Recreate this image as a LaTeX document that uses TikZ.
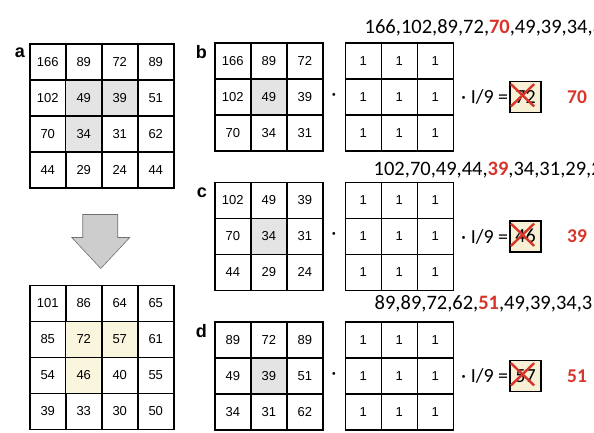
\documentclass[tikz,border=0pt]{standalone}
\usepackage{fontspec}
\setmainfont{Liberation Sans}
\newfontfamily\calib{Carlito}
\usetikzlibrary{matrix,positioning,calc,shapes.misc}
\definecolor{shdgrey}{HTML}{E4E4E4}
\definecolor{shdyel}{HTML}{FAF5DD}
\definecolor{boxfill}{HTML}{F7F0D4}
\definecolor{mred}{HTML}{D8352A}
\definecolor{arrfill}{HTML}{CDCDCD}
\definecolor{arrline}{HTML}{707070}
\tikzset{
  numgrid/.style={matrix of nodes,inner sep=0pt,outer sep=0pt,column sep=-1.5pt,row sep=-1.5pt,
                nodes={draw,line width=1.5pt,minimum size=36pt,inner sep=0pt,outer sep=0pt,
                       anchor=center,font=\fontsize{13}{15}\selectfont}},
  shd/.style={fill=shdgrey},
  ylw/.style={fill=shdyel},
  lbl/.style={inner sep=0pt,anchor=base east,font=\fontsize{18}{20}\selectfont\bfseries},
  seq/.style={inner sep=0pt,anchor=base west,font=\calib\fontsize{20.5}{24}\selectfont},
  op/.style={inner sep=0pt,font=\calib\fontsize{20}{24}\selectfont},
  resbox/.style={draw,line width=1.5pt,fill=boxfill,minimum size=31pt,inner sep=0pt,outer sep=0pt,
                 font=\calib\fontsize{20}{24}\selectfont},
  xmark/.style={cross out,draw=mred,line width=2.4pt,minimum width=21pt,minimum height=20pt,inner sep=0pt},
  res/.style={inner sep=0pt,text=mred,font=\calib\bfseries\fontsize{19.5}{22}\selectfont},
  bigarrow/.style={fill=arrfill,draw=arrline,line width=0.6pt,line join=miter},
}
\begin{document}
\begin{tikzpicture}[x=1pt,y=-1pt]
  \clip (0,0) rectangle (594,432);
  \matrix (ga) [numgrid,anchor=north west] at (29,43) {
    166 & 89 & 72 & 89\\
    102 & |[shd]| 49 & |[shd]| 39 & 51\\
    70 & |[shd]| 34 & 31 & 62\\
    44 & 29 & 24 & 44\\};
  \node[lbl] (la) at ([xshift=-4pt,yshift=-14pt]ga.north west) {a};
  \matrix (ge) [numgrid,below=96pt of ga] {
    101 & 86 & 64 & 65\\
    85 & |[ylw]| 72 & |[ylw]| 57 & 61\\
    54 & |[ylw]| 46 & 40 & 55\\
    39 & 33 & 30 & 50\\};
  \coordinate (tip) at ($(ga.south)+(-1,80)$);
  \draw[bigarrow] (tip) -- ++(-29,-31) -- ++(11,0) -- ++(0,-23) -- ++(35,0) -- ++(0,23) -- ++(12,0) -- cycle;

  \matrix (gb) [numgrid,anchor=north west] at (214,42) {
    166 & 89 & 72\\
    102 & |[shd]| 49 & 39\\
    70 & 34 & 31\\};
  \matrix (gc) [numgrid,below=30pt of gb] {
    102 & 49 & 39\\
    70 & |[shd]| 34 & 31\\
    44 & 29 & 24\\};
  \matrix (gd) [numgrid,below=30pt of gc] {
    89 & 72 & 89\\
    49 & |[shd]| 39 & 51\\
    34 & 31 & 62\\};
  \foreach \g/\s/\r in {b/72/70,c/46/39,d/57/51}{
    \node[lbl] (l\g) at ([xshift=-7pt,yshift=-16pt]g\g.north west) {\g};
    \matrix (k\g) [numgrid,right=21pt of g\g,ampersand replacement=\&] {
      1\&1\&1\\1\&1\&1\\1\&1\&1\\};
    \node[op] (m\g) at ($(g\g.east)!.5!(k\g.west)$) {·};
    \node[op,anchor=base west] (o\g) at ([xshift=7pt,yshift=-7pt]k\g.east) {· I/9 =};
    \node[resbox,right=56pt of k\g] (x\g) {\s};
    \node[xmark] (c\g) at ([xshift=-3pt,yshift=1.5pt]x\g.center) {};
    \node[res,right=26pt of x\g] (r\g) {\r};
  }
  \node[seq] (sb) at ([xshift=20pt,yshift=8.7pt]kb.north west) {166,102,89,72,{\bfseries\color{mred}70},49,39,34,31};
  \node[seq] (sc) at ([xshift=29pt,yshift=6.3pt]kc.north west) {102,70,49,44,{\bfseries\color{mred}39},34,31,29,24};
  \node[seq] (sd) at ([xshift=30pt,yshift=11.5pt]kd.north west) {89,89,72,62,{\bfseries\color{mred}51},49,39,34,31};
\end{tikzpicture}
\end{document}
